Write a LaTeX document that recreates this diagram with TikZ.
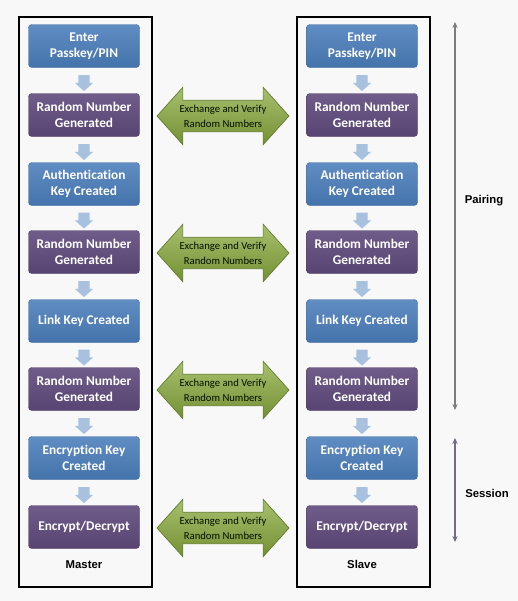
\documentclass[tikz,border=0pt]{standalone}
\usepackage{fontspec}
\setmainfont{Carlito}[Ligatures={NoCommon,NoContextual}]
\newfontfamily\labelfont{Liberation Sans}
\usetikzlibrary{shapes.arrows,calc,arrows.meta}
\definecolor{pagegray}{RGB}{248,248,248}
\definecolor{stepblue}{RGB}{74,125,186}
\definecolor{steppurple}{RGB}{96,74,124}
\definecolor{downblue}{RGB}{168,193,223}
\definecolor{swapgreen}{RGB}{137,170,62}
\definecolor{swapedge}{RGB}{96,122,40}
\definecolor{spangray}{RGB}{125,125,125}
\definecolor{spanpurple}{RGB}{116,106,140}

\begin{document}
\begin{tikzpicture}[x=0.75pt, y=-0.75pt,
  every node/.style={font=\fontsize{10}{11.8}\selectfont\bfseries},
  box/.style={rounded corners=2.5pt, minimum width=83.25pt, minimum height=32.25pt,
    text=white, align=center, inner sep=0pt, line width=0.3pt},
  keybox/.style={box, top color=stepblue!88!white, bottom color=stepblue!92!black, draw=stepblue!85!black},
  randbox/.style={box, top color=steppurple!90!white, bottom color=steppurple!92!black, draw=steppurple!80!black},
  down/.style={single arrow, shape border rotate=270, fill=downblue, draw=none,
    minimum height=12pt, inner xsep=4.1pt, inner ysep=0pt,
    single arrow head extend=2.6pt, single arrow tip angle=96},
  swap/.style={double arrow, top color=swapgreen!75!white, bottom color=swapgreen!85!black,
    draw=swapedge, line width=0.5pt, minimum height=99pt, inner xsep=2pt, inner ysep=3pt,
    double arrow head extend=9.75pt, double arrow tip angle=96, align=center,
    font=\fontsize{8}{11.5}\selectfont, text=black!85!green!40!black},
  frame/.style={draw=black, line width=1.7pt},
  tag/.style={font=\labelfont\bfseries\fontsize{8.5}{10}\selectfont},
  span/.style={{Stealth[length=4.5pt,width=4pt]}-{Stealth[length=4.5pt,width=4pt]}, line width=0.9pt}
]
  \fill[pagegray] (0,0) rectangle (518,601);
  \useasboundingbox (0,0) rectangle (518,601);

  % master and slave columns
  \draw[frame] (19,17) rectangle (152,587);
  \draw[frame] (297,17) rectangle (430,587);
  \foreach \side/\x in {m/84, s/362}{
    \foreach \i/\y/\kind/\txt in {1/46/keybox/{Enter\\Passkey/PIN}, 2/115/randbox/{Random Number\\Generated},
        3/184/keybox/{Authentication\\Key Created}, 4/252/randbox/{Random Number\\Generated},
        5/321/keybox/{Link Key Created}, 6/389/randbox/{Random Number\\Generated},
        7/458/keybox/{Encryption Key\\Created}, 8/527/randbox/{Encrypt/Decrypt}}
      \node[\kind] (\side\i) at (\x,\y) {\txt};
    \foreach \i in {1,...,7}{
      \pgfmathtruncatemacro\j{\i+1}
      \node[down] at ($(\side\i.south)!0.5!(\side\j.north)$) {};
    }
  }
  \node[tag] (master) at (84,565) {Master};
  \node[tag] (slave) at (362,564) {Slave};

  % exchanges between the two sides
  \foreach \i in {2,4,6,8}
    \node[swap] (x\i) at ($(m\i.east)!0.5!(s\i.west)+(0,1)$) {Exchange and Verify\\Random Numbers};

  % phases
  \coordinate (pairtop) at (455,22); \coordinate (pairbot) at (455,410);
  \coordinate (sesstop) at (455,438); \coordinate (sessbot) at (455,542);
  \draw[span, spangray] (pairtop) -- (pairbot);
  \draw[span, spanpurple] (sesstop) -- (sessbot);
  \node[tag] (pairing) at (484,201) {Pairing};
  \node[tag] (session) at (487,493) {Session};
\end{tikzpicture}
\end{document}
